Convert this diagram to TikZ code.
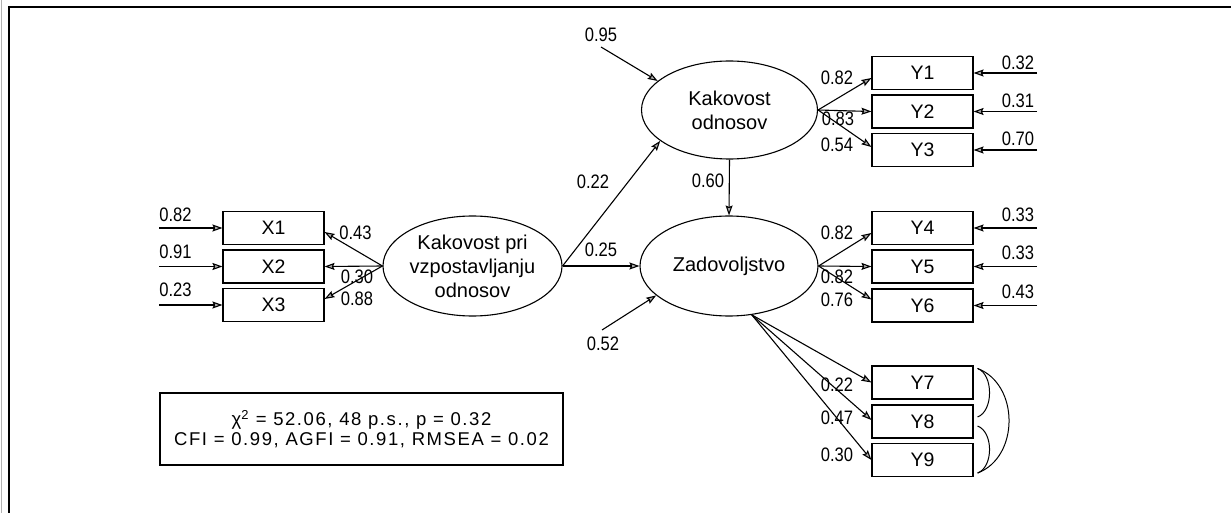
\documentclass[tikz,border=0pt]{standalone}
\usepackage{fontspec}
\setmainfont{Liberation Sans}
\newfontfamily\numf[FakeStretch=0.85]{Liberation Sans}
\newfontfamily\fitf[LetterSpace=8.5]{Liberation Sans}
\usetikzlibrary{arrows.meta,calc,shapes.geometric}
\begin{document}
\begin{tikzpicture}[x=1pt,y=-1pt,line width=1.1pt,
  >={Stealth[length=10pt,width=7pt,inset=1.5pt,fill=gray!60]},
  obs/.style={draw,rectangle,minimum width=101pt,minimum height=33pt,inner sep=0pt,font=\fontsize{19.5}{22}\selectfont},
  lat/.style={draw,ellipse,minimum width=179pt,minimum height=100pt,inner sep=0pt,align=center,font=\fontsize{20}{24}\selectfont},
  num/.style={inner sep=0pt,font=\numf\fontsize{19.5}{20}\selectfont},
  fitbox/.style={draw,minimum width=403pt,minimum height=72pt,inner sep=0pt,align=center,font=\fitf\fontsize{18.5}{20}\selectfont},
  cov/.style={line width=1pt}]
\useasboundingbox (0,0) rectangle (1231,513);
% frame
\draw[line width=1.4pt] (9,513) -- (9,7) -- (1231,7);
\draw[gray!60,line width=0.8pt] (1,0) -- (1,513);

% latent variables
\node[lat] (kp) at (472.5,266) {Kakovost pri\\vzpostavljanju\\odnosov};
\node[lat,minimum width=176pt,minimum height=98pt] (ko) at (729.5,110) {Kakovost\\odnosov};
\node[lat,minimum width=178pt] (zd) at (729,266) {Zadovoljstvo};

% observed X
\node[obs] (X1) at (273.5,228) {X1};
\node[obs] (X2) at (273.5,266.5) {X2};
\node[obs] (X3) at (273.5,305) {X3};
% observed Y
\node[obs] (Y1) at (922.5,73) {Y1};
\node[obs] (Y2) at (922.5,111.5) {Y2};
\node[obs] (Y3) at (922.5,150) {Y3};
\node[obs] (Y4) at (922.5,228) {Y4};
\node[obs] (Y5) at (922.5,266.5) {Y5};
\node[obs] (Y6) at (922.5,305.5) {Y6};
\node[obs] (Y7) at (922.5,382.5) {Y7};
\node[obs] (Y8) at (922.5,421.5) {Y8};
\node[obs] (Y9) at (922.5,460) {Y9};

% error sources
\coordinate (ex1) at (159,228);
\coordinate (ex2) at (159,266.5);
\coordinate (ex3) at (159,305);
\coordinate (ey1) at (1037,73);
\coordinate (ey2) at (1037,111.5);
\coordinate (ey3) at (1037,150);
\coordinate (ey4) at (1037,228);
\coordinate (ey5) at (1037,266.5);
\coordinate (ey6) at (1037,305.5);
\coordinate (eko) at (601,47);
\coordinate (ezd) at (602,330);

% error arrows
\draw[->] (ex1) -- (X1.west);
\draw[->] (ex2) -- (X2.west);
\draw[->] (ex3) -- (X3.west);
\foreach \i in {1,...,6} { \draw[->] (ey\i) -- (Y\i.east); }
\draw[->] (eko) -- (ko.158.7);
\draw[->] (ezd) -- (zd.202.2);

% loadings X
\draw[->] (kp.west) -- ([yshift=-4pt]X1.east);
\draw[->] (kp.west) -- (X2.east);
\draw[->] (kp.west) -- ([yshift=6pt]X3.east);
% structural paths
\draw[->] (kp.east) -- (ko.204.3);
\draw[->] (kp.east) -- (zd.west);
\draw[->] (ko.south) -- (zd.north);
% loadings Y
\draw[->] (ko.east) -- ([yshift=-5pt]Y1.west);
\draw[->] (ko.east) -- (Y2.west);
\draw[->] (ko.east) -- ([yshift=3pt]Y3.west);
\draw[->] (zd.east) -- ([yshift=-5pt]Y4.west);
\draw[->] (zd.east) -- (Y5.west);
\draw[->] (zd.east) -- ([yshift=6pt]Y6.west);
\draw[->] (zd.-65) -- (Y7.west);
\draw[->] (zd.-65) -- ([yshift=1.5pt]Y8.west);
\draw[->] (zd.-65) -- (Y9.west);

% covariances
\coordinate (c7) at ([shift={(4pt,-3pt)}]Y7.north east);
\coordinate (c8a) at ([shift={(4pt,4.5pt)}]Y8.east);
\coordinate (c8b) at ([shift={(4pt,-4.5pt)}]Y8.east);
\coordinate (c9) at ([shift={(4pt,4pt)}]Y9.south east);
\draw[cov] (c7) .. controls ($(c7)+(16,6)$) and ($(c8a)+(16,-6)$) .. (c8a);
\draw[cov] (c8b) .. controls ($(c8b)+(16,6)$) and ($(c9)+(16,-6)$) .. (c9);
\draw[cov] (c7) .. controls ($(c7)+(42,16)$) and ($(c9)+(42,-16)$) .. (c9);

% labels
\node[num] at (175.5,215) {0.82};
\node[num] at (175.5,252) {0.91};
\node[num] at (175.5,290) {0.23};
\node[num] at (355.5,233) {0.43};
\node[num] at (357,277) {0.30};
\node[num] at (357,299) {0.88};
\node[num] at (601,35) {0.95};
\node[num] at (593,182) {0.22};
\node[num] at (601,250) {0.25};
\node[num] at (708,181) {0.60};
\node[num] at (603,344) {0.52};
\node[num] at (837,78) {0.82};
\node[num] at (838,119) {0.83};
\node[num] at (837,145) {0.54};
\node[num] at (837,233) {0.82};
\node[num] at (837,277) {0.82};
\node[num] at (837,300) {0.76};
\node[num] at (837,385) {0.22};
\node[num] at (837,418) {0.47};
\node[num] at (837,455) {0.30};
\node[num] at (1018,63) {0.32};
\node[num] at (1018,101) {0.31};
\node[num] at (1018,139) {0.70};
\node[num] at (1018,215) {0.33};
\node[num] at (1018,253) {0.33};
\node[num] at (1018,292) {0.43};

% fit indices
\node[fitbox] (fit) at (361.5,429) {χ\textsuperscript{2} = 52.06, 48 p.s., p = 0.32\\CFI = 0.99, AGFI = 0.91, RMSEA = 0.02};
\end{tikzpicture}
\end{document}
